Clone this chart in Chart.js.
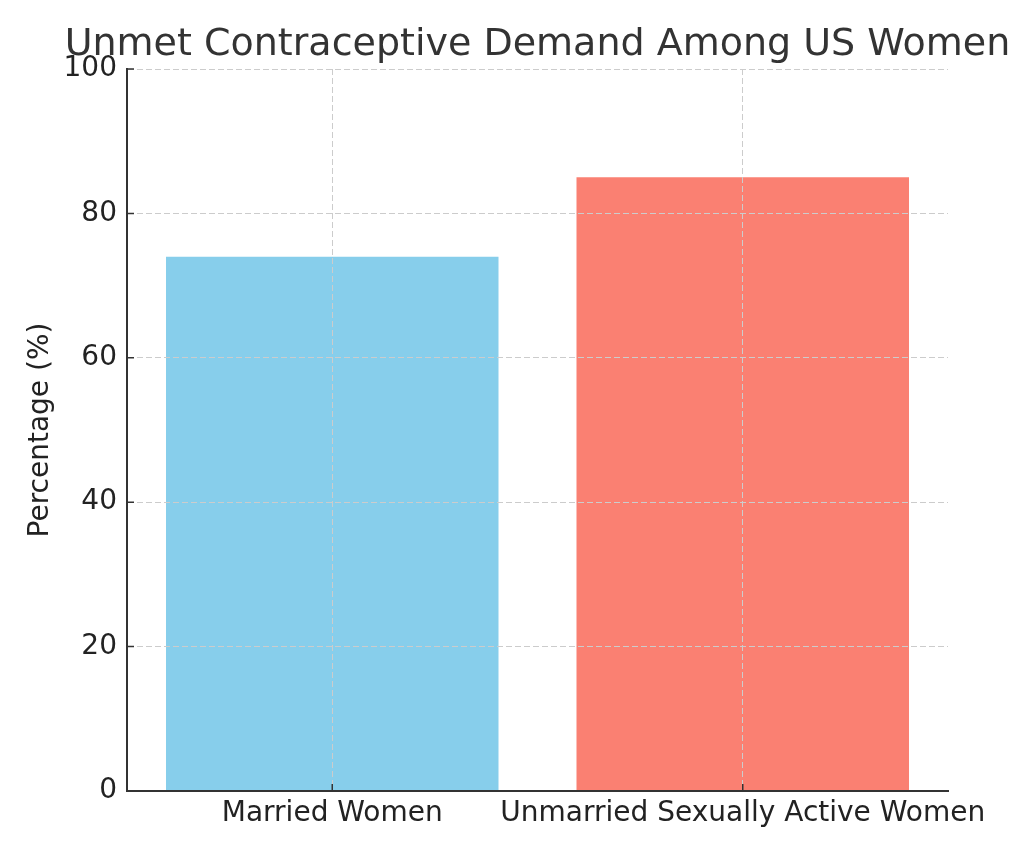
<!DOCTYPE html>
<html>
<head>
<meta charset="utf-8">
<script src="https://cdn.jsdelivr.net/npm/chart.js@4"></script>
<style>
  html, body { margin: 0; padding: 0; background: #fff; }
  #wrap { width: 1024px; height: 853px; }
</style>
</head>
<body>
<div id="wrap"><canvas id="chart" width="1024" height="853"></canvas></div>
<script>
const categories = ['Married Women', 'Unmarried Sexually Active Women'];
const values     = [74, 85];
const barColors  = ['#87CEEB', '#FA8072'];
const yTicks     = [0, 20, 40, 60, 80, 100];
const titleText  = 'Unmet Contraceptive Demand Among US Women';

const FONT = "'DejaVu Sans', sans-serif";

// title centred over the plot area (wider than the plot, so drawn by hand)
const plotTitle = {
  id: 'plotTitle',
  afterDraw(chart) {
    const ctx = chart.ctx;
    const area = chart.chartArea;
    ctx.save();
    ctx.font = '38px ' + FONT;
    ctx.fillStyle = '#333';
    ctx.textAlign = 'center';
    ctx.textBaseline = 'alphabetic';
    ctx.fillText(titleText, (area.left + area.right) / 2, 55);
    ctx.restore();
  }
};

// grid goes over the bars, ticks point inwards
const overlay = {
  id: 'overlay',
  afterDatasetsDraw(chart) {
    const ctx = chart.ctx;
    const area = chart.chartArea;
    const x = chart.scales.x, y = chart.scales.y;
    x.drawGrid(area);
    y.drawGrid(area);
    ctx.save();
    ctx.strokeStyle = '#333';
    ctx.lineWidth = 1.5;
    ctx.beginPath();
    x.ticks.forEach((t, i) => {
      const px = x.getPixelForTick(i);
      ctx.moveTo(px, area.bottom);
      ctx.lineTo(px, area.bottom - 7);
    });
    y.ticks.forEach((t, i) => {
      const py = y.getPixelForTick(i);
      ctx.moveTo(area.left, py);
      ctx.lineTo(area.left + 7, py);
    });
    ctx.stroke();
    ctx.restore();
    x.drawBorder && x.drawBorder();
    y.drawBorder && y.drawBorder();
  }
};

new Chart(document.getElementById('chart'), {
  type: 'bar',
  data: {
    labels: categories,
    datasets: [{
      data: values,
      backgroundColor: barColors,
      borderWidth: 0,
      barPercentage: 0.81,
      categoryPercentage: 1.0
    }]
  },
  options: {
    responsive: false,
    animation: false,
    layout: { padding: { left: 0, right: 76, top: 69, bottom: 0 } },
    plugins: {
      legend: { display: false },
      tooltip: { enabled: false },
      title: { display: false }
    },
    scales: {
      x: {
        grid: {
          offset: false,
          color: '#cccccc',
          lineWidth: 1,
          drawTicks: false
        },
        border: { display: true, color: '#333', width: 2, dash: [6, 3] },
        ticks: {
          color: '#222',
          padding: 6,
          maxRotation: 0,
          autoSkip: false,
          font: { family: FONT, size: 28 }
        },
        afterFit(scale) { scale.height = 62; }
      },
      y: {
        min: 0,
        max: 100,
        afterBuildTicks(scale) { scale.ticks = yTicks.map(v => ({ value: v })); },
        grid: {
          color: '#cccccc',
          lineWidth: 1,
          drawTicks: false
        },
        border: { display: true, color: '#333', width: 2, dash: [6, 3] },
        ticks: {
          color: '#222',
          padding: 10,
          font: { family: FONT, size: 28 }
        },
        title: {
          display: true,
          text: 'Percentage (%)',
          color: '#222',
          font: { family: FONT, size: 28 },
          padding: { top: 24, bottom: 0 }
        },
        afterFit(scale) { scale.width = 127; }
      }
    }
  },
  plugins: [overlay, plotTitle]
});
</script>
</body>
</html>
